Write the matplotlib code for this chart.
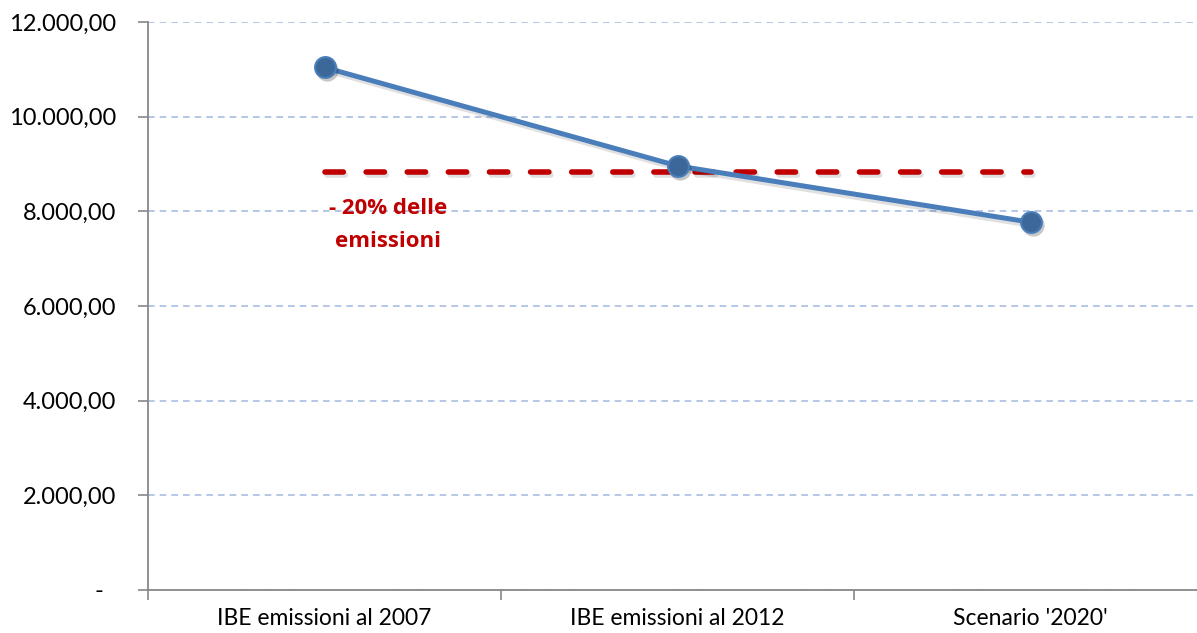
import matplotlib
matplotlib.use("Agg")
import matplotlib.pyplot as plt
import matplotlib.patheffects as pe
from matplotlib.transforms import offset_copy
from matplotlib.ticker import FixedLocator, FuncFormatter

plt.rcParams['font.family'] = ['Lato', 'DejaVu Sans']

categories = ["IBE emissioni al 2007", "IBE emissioni al 2012", "Scenario '2020'"]
emissions = [11040, 8960, 7770]
target = 0.8 * emissions[0]
target_label = "- 20% delle\nemissioni"
y_ticks = [0, 2000, 4000, 6000, 8000, 10000, 12000]


def it_format(v, pos=None):
    if v == 0:
        return "-  "
    s = "{:,.2f}".format(v)
    return s.replace(",", "X").replace(".", ",").replace("X", ".")


fig = plt.figure(figsize=(11.97, 6.33), dpi=100)
ax = fig.add_axes([148 / 1197, 43 / 633, 1059 / 1197, 568 / 633])

xs = list(range(len(categories)))
line_shadow = [pe.SimpleLineShadow(offset=(2, -2.5), shadow_color='#000000', alpha=0.12), pe.Normal()]

# target line at -20% of 2007 emissions
ax.plot([xs[0], xs[-1]], [target, target], color='#C00000', lw=4.0,
        dashes=(3.3, 4.1), dash_capstyle='round', zorder=3,
        path_effects=line_shadow)

ax.plot(xs, emissions, color='#4A7EBB', lw=3.6, zorder=4, path_effects=line_shadow)

# soft drop shadow under the markers
shadow_tr = offset_copy(ax.transData, fig=fig, x=2.5, y=-3, units='dots')
ax.plot(xs, emissions, ls='none', marker='o', markersize=16, markerfacecolor='#000000',
        markeredgewidth=0, alpha=0.22, transform=shadow_tr, zorder=4)
ax.plot(xs, emissions, ls='none', marker='o', markersize=15,
        markerfacecolor='#3C6899', markeredgecolor='#4A7EBB', markeredgewidth=1.5,
        zorder=5)

ax.text(0.18, 7720, target_label, color='#C00000', fontsize=16, fontweight='bold',
        ha='center', va='center', linespacing=1.75, family=['Open Sans', 'DejaVu Sans'])

ax.set_xlim(-0.5, 2.5)
ax.set_ylim(0, 12000)
ax.yaxis.set_major_locator(FixedLocator(y_ticks))
ax.yaxis.set_major_formatter(FuncFormatter(it_format))
ax.yaxis.grid(True, color='#A9BEE3', linestyle=(0, (4, 3)), linewidth=1.2)
ax.set_axisbelow(True)

ax.set_xticks(xs)
ax.set_xticklabels(categories)
ax.set_xticks([-0.5, 0.5, 1.5], minor=True)
ax.tick_params(axis='x', which='major', length=0, pad=13, labelsize=16.5)
ax.tick_params(axis='x', which='minor', length=7, width=1.2, color='#888888')
ax.tick_params(axis='y', length=7, width=1.2, color='#888888', pad=16, labelsize=17)

for side in ('top', 'right'):
    ax.spines[side].set_visible(False)
for side in ('left', 'bottom'):
    ax.spines[side].set_color('#888888')
    ax.spines[side].set_linewidth(1.3)

fig.savefig("out.png", dpi=100)
